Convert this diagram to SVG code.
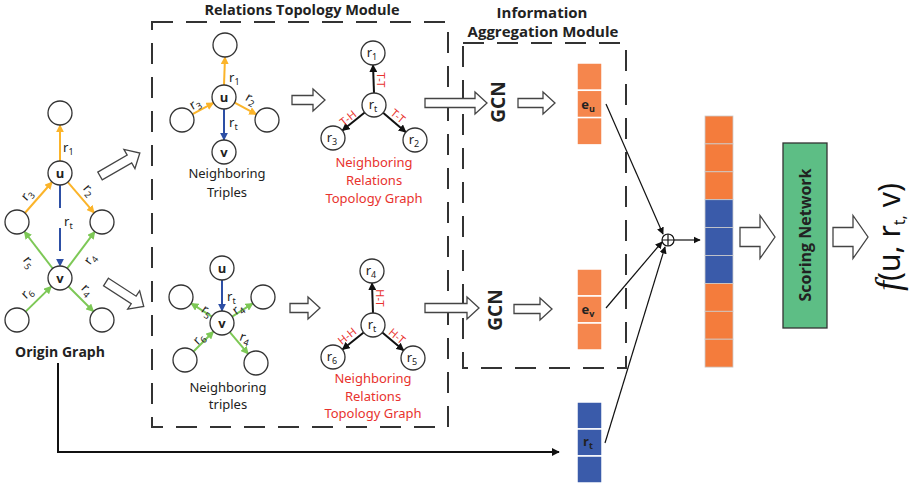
<svg xmlns="http://www.w3.org/2000/svg" width="923" height="488" viewBox="0 0 923 488">
<style>
.c{fill:#fff;stroke:#333;stroke-width:1.3}
.t{font-family:"Noto Sans","Open Sans",sans-serif;font-size:13px;fill:#222}
.b{font-family:"Open Sans","Noto Sans",sans-serif;font-weight:bold;fill:#222}
.red{fill:#E8322E;font-size:13px}
.rl{fill:#E8322E;font-size:11px;font-family:"Noto Sans",sans-serif}
.e{fill:none;stroke-width:2}
.y{stroke:#FBB42A}
.g{stroke:#7DC856}
.bl{stroke:#2D4FA5}
.k{stroke:#111}
.ha{fill:#fff;stroke:#444;stroke-width:1.3}
.box{fill:none;stroke:#333;stroke-width:2;stroke-dasharray:21 13}
.or{fill:#F5864D;stroke:#fff;stroke-width:1.5}
.or2{fill:#F47C3C;stroke:#ccc;stroke-width:0.8}
.bv{fill:#3A5BAA;stroke:#fff;stroke-width:1.5}
.bv2{fill:#3A5BAA;stroke:#ccc;stroke-width:0.8}
</style>
<defs>
<marker id="ay" viewBox="0 0 10 10" refX="9" refY="5" markerWidth="4" markerHeight="4" orient="auto"><path d="M0,0L10,5L0,10z" fill="#FBB42A"/></marker>
<marker id="ag" viewBox="0 0 10 10" refX="9" refY="5" markerWidth="4" markerHeight="4" orient="auto"><path d="M0,0L10,5L0,10z" fill="#7DC856"/></marker>
<marker id="ab" viewBox="0 0 10 10" refX="9" refY="5" markerWidth="4" markerHeight="4" orient="auto"><path d="M0,0L10,5L0,10z" fill="#2D4FA5"/></marker>
<marker id="ak" viewBox="0 0 10 10" refX="9" refY="5" markerWidth="4" markerHeight="4" orient="auto"><path d="M0,0L10,5L0,10z" fill="#111"/></marker>
<marker id="ak2" viewBox="0 0 10 10" refX="9" refY="5" markerWidth="6" markerHeight="6" orient="auto"><path d="M0,0L10,5L0,10z" fill="#111"/></marker>
</defs>

<!-- module boxes -->
<g id="relations-module">
<rect class="box" x="152" y="22" width="296" height="405"/>
<text class="b" x="302" y="15" font-size="14.5" text-anchor="middle">Relations Topology Module</text>
</g>
<g id="aggregation-module">
<rect class="box" x="463" y="43" width="163" height="325"/>
<text class="b" x="542" y="18" font-size="15" text-anchor="middle">Information</text>
<text class="b" x="543" y="37" font-size="15" text-anchor="middle">Aggregation Module</text>
</g>

<!-- connectors -->
<g id="connectors">
<line class="e y" x1="60" y1="161" x2="60" y2="125" marker-end="url(#ay)"/>
<line class="e y" x1="24.9" y1="213" x2="52.1" y2="182" marker-end="url(#ay)"/>
<line class="e y" x1="67.8" y1="182.1" x2="94.2" y2="212.9" marker-end="url(#ay)"/>
<line class="e bl" x1="60" y1="185" x2="60" y2="266" stroke-dasharray="23 20" marker-end="url(#ab)"/>
<line class="e g" x1="52.7" y1="268.5" x2="24.3" y2="231.5" marker-end="url(#ag)"/>
<line class="e g" x1="67.2" y1="268.4" x2="94.8" y2="231.6" marker-end="url(#ag)"/>
<line class="e g" x1="25.6" y1="311.6" x2="51.4" y2="286.4" marker-end="url(#ag)"/>
<line class="e g" x1="68.5" y1="286.5" x2="93.5" y2="311.5" marker-end="url(#ag)"/>
<line class="e y" x1="224" y1="85" x2="225" y2="57" marker-end="url(#ay)"/>
<line class="e y" x1="192.5" y1="114.2" x2="213.5" y2="102.8" marker-end="url(#ay)"/>
<line class="e y" x1="234.6" y1="102.7" x2="256.4" y2="114.3" marker-end="url(#ay)"/>
<line class="e bl" x1="224" y1="109" x2="224" y2="140" marker-end="url(#ab)"/>
<line class="e k" x1="374" y1="93" x2="373" y2="65" marker-end="url(#ak)"/>
<line class="e k" x1="364.7" y1="112.5" x2="342.3" y2="130.5" marker-end="url(#ak)"/>
<line class="e k" x1="383.1" y1="112.8" x2="405.9" y2="132.2" marker-end="url(#ak)"/>
<line class="e bl" x1="222" y1="280" x2="222" y2="311" marker-end="url(#ab)"/>
<line class="e g" x1="211.9" y1="316.6" x2="191.1" y2="303.4" marker-end="url(#ag)"/>
<line class="e g" x1="232.1" y1="316.6" x2="252.9" y2="303.4" marker-end="url(#ag)"/>
<line class="e g" x1="193.5" y1="351.5" x2="213.5" y2="331.5" marker-end="url(#ag)"/>
<line class="e g" x1="229.8" y1="332.1" x2="248.2" y2="353.9" marker-end="url(#ag)"/>
<line class="e k" x1="373" y1="313" x2="372" y2="283" marker-end="url(#ak)"/>
<line class="e k" x1="363.6" y1="332.5" x2="342.4" y2="349.5" marker-end="url(#ak)"/>
<line class="e k" x1="382.3" y1="332.6" x2="403.7" y2="350.4" marker-end="url(#ak)"/>
<path class="ha" transform="translate(100,176) rotate(-30)" d="M0,-4.5H34V-11L46,0L34,11V4.5H0Z"/>
<path class="ha" transform="translate(106,282) rotate(33)" d="M0,-4.5H33V-11L45,0L33,11V4.5H0Z"/>
<path class="ha" transform="translate(292,100)" d="M0,-4.5H21V-11L33,0L21,11V4.5H0Z"/>
<path class="ha" transform="translate(290,308)" d="M0,-4.5H18V-11L30,0L18,11V4.5H0Z"/>
<path class="ha" transform="translate(425,103)" d="M0,-4.5H50V-11L62,0L50,11V4.5H0Z"/>
<path class="ha" transform="translate(425,308)" d="M0,-4.5H42V-11L54,0L42,11V4.5H0Z"/>
<path class="ha" transform="translate(518,103)" d="M0,-4.5H25V-11L37,0L25,11V4.5H0Z"/>
<path class="ha" transform="translate(514,309)" d="M0,-4.5H26V-11L38,0L26,11V4.5H0Z"/>
<path class="ha" transform="translate(740,237)" d="M0,-9.5H20V-21.5L35,0L20,21.5V9.5H0Z"/>
<path class="ha" transform="translate(833,237)" d="M0,-9.5H20V-21.5L35,0L20,21.5V9.5H0Z"/>
<line stroke="#111" stroke-width="1.2" x1="606" y1="104" x2="663" y2="234" marker-end="url(#ak2)"/>
<line stroke="#111" stroke-width="1.2" x1="606" y1="308" x2="662" y2="242" marker-end="url(#ak2)"/>
<line stroke="#111" stroke-width="1.2" x1="605" y1="443" x2="665" y2="247" marker-end="url(#ak2)"/>
<line stroke="#111" stroke-width="1.2" x1="674" y1="240" x2="700" y2="240" marker-end="url(#ak2)"/>
<polyline fill="none" stroke="#111" stroke-width="2" points="58,363 58,452 559,452" marker-end="url(#ak)"/>
</g>

<g id="origin-graph">
<circle class="c" cx="60" cy="113" r="12"/>
<circle class="c" cx="60" cy="173" r="12"/>
<circle class="c" cx="17" cy="222" r="12"/>
<circle class="c" cx="102" cy="222" r="12"/>
<circle class="c" cx="60" cy="278" r="12"/>
<circle class="c" cx="17" cy="320" r="12"/>
<circle class="c" cx="102" cy="320" r="12"/>
<text class="b" x="60" y="178" font-size="13" text-anchor="middle">u</text>
<text class="b" x="60" y="283" font-size="13" text-anchor="middle">v</text>
<text class="t" x="63" y="152">r<tspan font-size="9" dy="3">1</tspan></text>
<text class="t" x="64" y="226">r<tspan font-size="9" dy="3">t</tspan></text>
<text class="t" transform="translate(89,190) rotate(49)" text-anchor="middle" y="4">r<tspan font-size="9" dy="3">2</tspan></text>
<text class="t" transform="translate(27,195) rotate(-49)" text-anchor="middle" y="4">r<tspan font-size="9" dy="3">3</tspan></text>
<text class="t" transform="translate(29,262) rotate(52)" text-anchor="middle" y="4">r<tspan font-size="9" dy="3">5</tspan></text>
<text class="t" transform="translate(90,259) rotate(-53)" text-anchor="middle" y="4">r<tspan font-size="9" dy="3">4</tspan></text>
<text class="t" transform="translate(27,293) rotate(-44)" text-anchor="middle" y="4">r<tspan font-size="9" dy="3">6</tspan></text>
<text class="t" transform="translate(87,290) rotate(45)" text-anchor="middle" y="4">r<tspan font-size="9" dy="3">4</tspan></text>
<text class="b" x="60" y="357" font-size="14" text-anchor="middle">Origin Graph</text>
</g>

<g id="upper-triples">
<circle class="c" cx="225" cy="45" r="12"/>
<circle class="c" cx="224" cy="97" r="12"/>
<circle class="c" cx="182" cy="120" r="12"/>
<circle class="c" cx="267" cy="120" r="12"/>
<circle class="c" cx="224" cy="152" r="12"/>
<text class="b" x="224" y="102" font-size="13" text-anchor="middle">u</text>
<text class="b" x="224" y="157" font-size="13" text-anchor="middle">v</text>
<text class="t" x="229" y="82">r<tspan font-size="9" dy="3">1</tspan></text>
<text class="t" x="229" y="127">r<tspan font-size="9" dy="3">t</tspan></text>
<text class="t" transform="translate(251,99) rotate(30)" text-anchor="middle" y="4">r<tspan font-size="9" dy="3">2</tspan></text>
<text class="t" transform="translate(195,104) rotate(-30)" text-anchor="middle" y="4">r<tspan font-size="9" dy="3">3</tspan></text>
<text class="t" x="227" y="178" text-anchor="middle" fill="#333">Neighboring</text>
<text class="t" x="227" y="197" text-anchor="middle" fill="#333">Triples</text>
</g>

<g id="upper-topology">
<circle class="c" cx="373" cy="53" r="12"/>
<circle class="c" cx="374" cy="105" r="12"/>
<circle class="c" cx="333" cy="138" r="12"/>
<circle class="c" cx="415" cy="140" r="12"/>
<text class="t" x="372" y="57" text-anchor="middle">r<tspan font-size="9" dy="3">1</tspan></text>
<text class="t" x="373" y="109" text-anchor="middle" fill="#2D5BB5">r<tspan font-size="9" dy="3">t</tspan></text>
<text class="t" x="332" y="142" text-anchor="middle">r<tspan font-size="9" dy="3">3</tspan></text>
<text class="t" x="414" y="144" text-anchor="middle">r<tspan font-size="9" dy="3">2</tspan></text>
<text class="rl" transform="translate(381,80) rotate(90)" text-anchor="middle" y="4">T-T</text>
<text class="rl" transform="translate(348,118) rotate(-39)" text-anchor="middle" y="4">T-H</text>
<text class="rl" transform="translate(398,116) rotate(40)" text-anchor="middle" y="4">T-T</text>
<text class="t red" x="374" y="167" text-anchor="middle">Neighboring</text>
<text class="t red" x="374" y="185" text-anchor="middle">Relations</text>
<text class="t red" x="374" y="203" text-anchor="middle">Topology Graph</text>
</g>

<g id="lower-triples">
<circle class="c" cx="222" cy="268" r="12"/>
<circle class="c" cx="222" cy="323" r="12"/>
<circle class="c" cx="181" cy="297" r="12"/>
<circle class="c" cx="263" cy="297" r="12"/>
<circle class="c" cx="185" cy="360" r="12"/>
<circle class="c" cx="256" cy="363" r="12"/>
<text class="b" x="222" y="273" font-size="13" text-anchor="middle">u</text>
<text class="b" x="222" y="328" font-size="13" text-anchor="middle">v</text>
<text class="t" x="227" y="301">r<tspan font-size="9" dy="3">t</tspan></text>
<text class="t" transform="translate(207,311) rotate(35)" text-anchor="middle" y="4">r<tspan font-size="9" dy="3">5</tspan></text>
<text class="t" transform="translate(238,309) rotate(-35)" text-anchor="middle" y="4">r<tspan font-size="9" dy="3">4</tspan></text>
<text class="t" transform="translate(199,339) rotate(-45)" text-anchor="middle" y="4">r<tspan font-size="9" dy="3">6</tspan></text>
<text class="t" transform="translate(245,338) rotate(20)" text-anchor="middle" y="4">r<tspan font-size="9" dy="3">4</tspan></text>
<text class="t" x="228" y="392" text-anchor="middle" fill="#333">Neighboring</text>
<text class="t" x="228" y="409" text-anchor="middle" fill="#333">triples</text>
</g>

<g id="lower-topology">
<circle class="c" cx="372" cy="271" r="12"/>
<circle class="c" cx="373" cy="325" r="12"/>
<circle class="c" cx="333" cy="357" r="12"/>
<circle class="c" cx="413" cy="358" r="12"/>
<text class="t" x="371" y="275" text-anchor="middle">r<tspan font-size="9" dy="3">4</tspan></text>
<text class="t" x="372" y="329" text-anchor="middle" fill="#2D5BB5">r<tspan font-size="9" dy="3">t</tspan></text>
<text class="t" x="332" y="361" text-anchor="middle">r<tspan font-size="9" dy="3">6</tspan></text>
<text class="t" x="412" y="362" text-anchor="middle">r<tspan font-size="9" dy="3">5</tspan></text>
<text class="rl" transform="translate(380,298) rotate(90)" text-anchor="middle" y="4">H-T</text>
<text class="rl" transform="translate(347,336) rotate(-39)" text-anchor="middle" y="4">H-H</text>
<text class="rl" transform="translate(397,336) rotate(40)" text-anchor="middle" y="4">H-T</text>
<text class="t red" x="373" y="383" text-anchor="middle">Neighboring</text>
<text class="t red" x="373" y="401" text-anchor="middle">Relations</text>
<text class="t red" x="373" y="418" text-anchor="middle">Topology Graph</text>
</g>

<g id="gcn-upper"><text class="b" transform="translate(505,102) rotate(-90)" font-size="19" text-anchor="middle">GCN</text></g>
<g id="gcn-lower"><text class="b" transform="translate(502,310) rotate(-90)" font-size="19" text-anchor="middle">GCN</text></g>

<g id="eu">
<rect class="or" x="577" y="63" width="25" height="27.3"/>
<rect class="or" x="577" y="90.3" width="25" height="27.3"/>
<rect class="or" x="577" y="117.6" width="25" height="27.3"/>
<text class="b" x="588" y="109" font-size="13" text-anchor="middle">e<tspan font-size="9" dy="3">u</tspan></text>
</g>
<g id="ev">
<rect class="or" x="577" y="269" width="25" height="27"/>
<rect class="or" x="577" y="296" width="25" height="27"/>
<rect class="or" x="577" y="323" width="25" height="27"/>
<text class="b" x="588" y="314" font-size="13" text-anchor="middle">e<tspan font-size="9" dy="3">v</tspan></text>
</g>
<g id="rt">
<rect class="bv" x="577" y="402" width="25" height="27"/>
<rect class="bv" x="577" y="429" width="25" height="27"/>
<rect class="bv" x="577" y="456" width="25" height="27"/>
<text class="b" x="588" y="446" font-size="13" text-anchor="middle">r<tspan font-size="9" dy="3">t</tspan></text>
</g>
<g id="concat">
<rect class="or2" x="705" y="116" width="28" height="27.9"/>
<rect class="or2" x="705" y="143.9" width="28" height="27.9"/>
<rect class="or2" x="705" y="171.8" width="28" height="27.9"/>
<rect class="bv2" x="705" y="199.7" width="28" height="27.9"/>
<rect class="bv2" x="705" y="227.6" width="28" height="27.9"/>
<rect class="bv2" x="705" y="255.5" width="28" height="27.9"/>
<rect class="or2" x="705" y="283.4" width="28" height="27.9"/>
<rect class="or2" x="705" y="311.3" width="28" height="27.9"/>
<rect class="or2" x="705" y="339.2" width="28" height="27.9"/>
</g>
<g id="oplus">
<circle cx="668" cy="240" r="6" fill="#fff" stroke="#111" stroke-width="1.2"/>
<path d="M662,240H674M668,234V246" stroke="#111" stroke-width="1.2"/>
</g>
<g id="scoring-network">
<rect x="783" y="143" width="44" height="185" fill="#5DBE85" stroke="#333" stroke-width="1.3"/>
<text class="b" transform="translate(811,235) rotate(-90)" font-size="16" text-anchor="middle">Scoring Network</text>
</g>
<g id="score">
<text transform="translate(900,237) rotate(-90)" text-anchor="middle" font-family="Noto Sans, sans-serif" font-size="30" fill="#111"><tspan font-family="Liberation Serif, serif" font-style="italic" font-size="36">f</tspan><tspan>(u, r</tspan><tspan font-size="16" dy="5">t,</tspan><tspan dy="-5"> v)</tspan></text>
</g>
</svg>
